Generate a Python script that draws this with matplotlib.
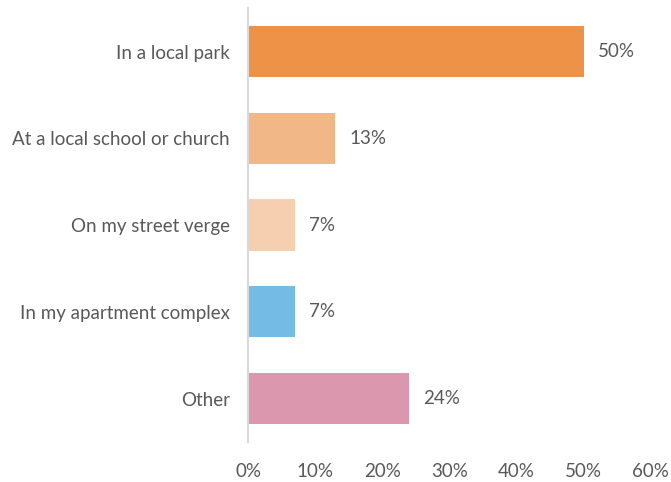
import matplotlib.pyplot as plt
from matplotlib.ticker import FuncFormatter

plt.rcParams['font.family'] = ['Lato', 'DejaVu Sans']

locations = ["In a local park", "At a local school or church", "On my street verge",
             "In my apartment complex", "Other"]
shares = [50, 13, 7, 7, 24]
colors = ["#ED9247", "#F2B787", "#F5CFB0", "#74BBE6", "#DB97AE"]
xticks = [0, 10, 20, 30, 40, 50, 60]

text_color = "#595959"
fsize = 13.5

fig = plt.figure(figsize=(6.71, 4.82), dpi=100)
ax = fig.add_axes([0.3696, 0.083, 0.6004, 0.9])

pos = list(range(len(locations)))
ax.barh(pos, shares, height=0.59, color=colors)
for p, v in zip(pos, shares):
    ax.annotate(f"{v}%", (v, p), xytext=(10, 0), textcoords="offset points",
                va="center", ha="left", fontsize=fsize, color=text_color)

ax.set_ylim(len(locations) - 0.5, -0.5)
ax.set_xlim(0, 60)
ax.set_yticks(pos)
ax.set_yticklabels(locations)
ax.set_xticks(xticks)
ax.xaxis.set_major_formatter(FuncFormatter(lambda x, _: f"{x:.0f}%"))

for side in ["top", "right", "bottom"]:
    ax.spines[side].set_visible(False)
ax.spines["left"].set_color("#D9D9D9")
ax.spines["left"].set_linewidth(1.5)
ax.tick_params(axis="both", length=0, labelsize=fsize, labelcolor=text_color)
ax.tick_params(axis="y", pad=13)
ax.tick_params(axis="x", pad=15)

fig.savefig("out.png", dpi=100)
